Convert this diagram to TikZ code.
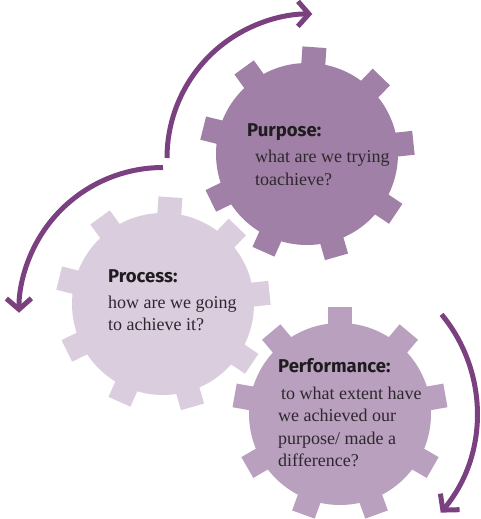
\documentclass[tikz,border=0pt]{standalone}
\usepackage{fontspec}
\setmainfont{Liberation Serif}
\newfontfamily\headfont{Fira Sans}
\usetikzlibrary{calc,arrows.meta}
\definecolor{purposecol}{RGB}{160,128,166}
\definecolor{processcol}{RGB}{218,205,222}
\definecolor{perfcol}{RGB}{185,160,190}
\definecolor{arrowcol}{RGB}{122,64,128}
\definecolor{headcol}{RGB}{30,28,30}
\definecolor{bodycol}{RGB}{45,40,45}
\newcommand{\drawcog}[3]{%
  \fill[#2] (#1) circle[radius=91];
  \foreach \k in {0,...,8}{%
    \pgfmathsetmacro{\ang}{#3+40*\k}%
    \pgfmathsetmacro{\angp}{\ang+90}%
    \pgfmathsetmacro{\angm}{\ang-90}%
    \fill[#2] ($(#1)+(\ang:85)+(\angp:12)$) -- ($(#1)+(\ang:107)+(\angp:12)$)
      -- ($(#1)+(\ang:107)+(\angm:12)$) -- ($(#1)+(\ang:85)+(\angm:12)$) -- cycle;
  }}
\begin{document}
\begin{tikzpicture}[x=1pt,y=1pt,
  conn/.style={line width=5pt, draw=arrowcol, -{Straight Barb[length=11pt,width=25pt]}},
  head/.style={anchor=base west, inner sep=0pt, font=\headfont\bfseries\fontsize{18.5}{21}\selectfont, text=headcol},
  body/.style={anchor=base west, inner sep=0pt, font=\fontsize{18}{22}\selectfont, text=bodycol}]
\useasboundingbox (0,0) rectangle (480,519);
\coordinate (purpose) at (307,365);
\coordinate (process) at (163,215);
\coordinate (perf) at (340,105);
\coordinate (arcA) at (311,361);
\coordinate (arcB) at (163,207.5);
\coordinate (arcC) at (322,106);
\drawcog{process}{processcol}{6}
\drawcog{purpose}{purposecol}{6}
\drawcog{perf}{perfcol}{90}
\draw[conn] ($(arcA)+(180:144)$) arc[start angle=180, end angle=89.5, radius=144];
\draw[conn] ($(arcB)+(90:144)$) arc[start angle=90, end angle=180.5, radius=144];
\draw[conn] ($(arcC)+(39.5:155)$) arc[start angle=39.5, end angle=-40, radius=155];
\node[head] (h1) at (247,382) {Purpose:};
\node[body] (p1) at (255,356) {what are we trying};
\node[body] (p2) at (255,333) {toachieve?};
\node[head] (h2) at (108,236) {Process:};
\node[body] (q1) at (108,210) {how are we going};
\node[body] (q2) at (108,188) {to achieve it?};
\node[head] (h3) at (278,146) {Performance:};
\node[body] (r1) at (281,119) {to what extent have};
\node[body] (r2) at (278,97) {we achieved our};
\node[body] (r3) at (278,74) {purpose/ made a};
\node[body] (r4) at (278,52) {difference?};
\end{tikzpicture}
\end{document}
